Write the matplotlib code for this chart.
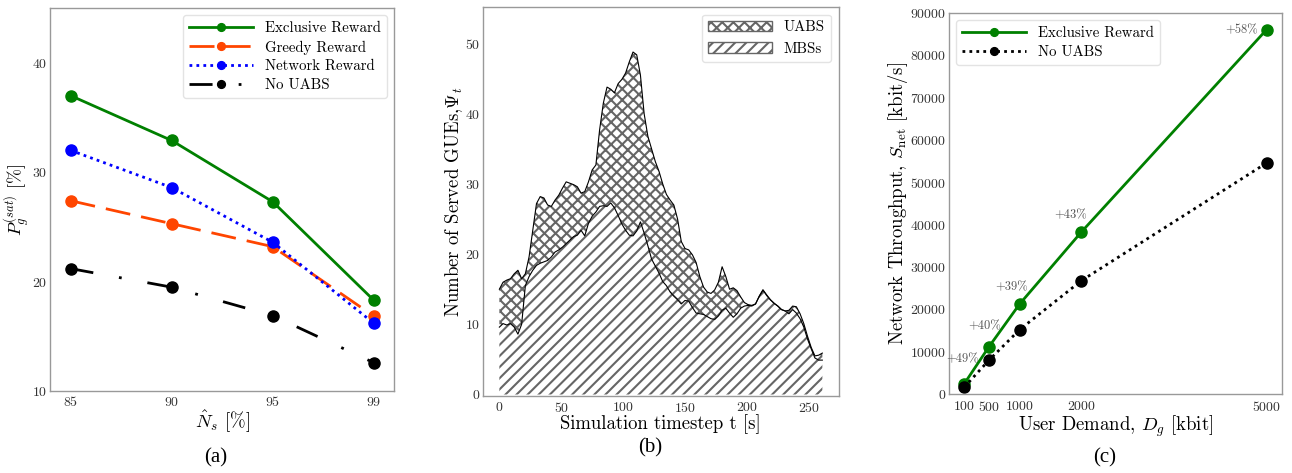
import matplotlib
matplotlib.use("Agg")
import matplotlib.pyplot as plt
import numpy as np
from matplotlib.patches import Patch

# ── Estilo ────────────────────────────────────────────────────────────────────
plt.rcParams["font.family"] = ["cmr10", "DejaVu Serif"]
plt.rcParams["mathtext.fontset"] = "cm"
plt.rcParams["axes.formatter.use_mathtext"] = True
plt.rcParams["hatch.linewidth"] = 1.5
plt.rcParams["axes.unicode_minus"] = False

SPINE_GRAY = "#999999"
TEXT_GRAY = "#333333"
HATCH_GRAY = "#666666"

# ── (a) datos ─────────────────────────────────────────────────────────────────
ns_labels = ["85", "90", "95", "99"]
psat_exclusive = [37.0, 32.9, 27.3, 18.3]
psat_greedy = [27.4, 25.3, 23.2, 16.85]
psat_network = [32.0, 28.6, 23.6, 16.2]
psat_no_uabs = [21.2, 19.5, 16.9, 12.6]

# ── (b) datos ─────────────────────────────────────────────────────────────────
timestep_s = np.arange(0, 262, 3)
served_total = [
    15.0, 16.0, 16.3, 16.5, 17.2, 17.7, 16.5, 17.2, 19.6, 23.4,
    27.2, 28.2, 28.0, 27.0, 26.8, 27.7, 28.4, 29.4, 30.3, 30.1,
    29.9, 29.6, 28.7, 28.9, 30.3, 32.0, 32.7, 37.7, 41.5, 43.8,
    43.5, 43.0, 44.3, 44.9, 45.8, 47.4, 48.8, 48.4, 45.5, 40.0,
    36.8, 35.0, 33.2, 31.8, 30.0, 28.5, 27.7, 27.0, 25.0, 21.8,
    20.8, 20.6, 19.9, 18.8, 16.8, 15.3, 14.6, 14.4, 14.9, 16.0,
    18.2, 16.8, 15.0, 15.2, 14.8, 13.9, 13.1, 12.8, 12.7, 12.9,
    14.0, 14.9, 14.2, 13.5, 13.0, 12.6, 12.1, 11.9, 12.0, 12.6,
    12.5, 11.5, 10.1, 8.3, 6.7, 5.5, 5.6, 5.9,
]
served_mbs = [
    9.6, 10.1, 9.9, 10.1, 9.6, 8.6, 10.0, 15.5, 16.8, 17.7,
    18.4, 18.7, 18.9, 19.1, 19.6, 20.3, 20.6, 21.0, 21.5, 22.0,
    22.5, 22.7, 23.4, 22.6, 24.4, 25.4, 26.0, 26.8, 26.9, 26.8,
    27.3, 26.6, 25.5, 24.3, 23.4, 22.7, 22.6, 23.3, 24.6, 23.0,
    21.2, 19.3, 18.3, 17.3, 16.1, 15.5, 14.6, 14.0, 13.5, 12.9,
    13.4, 13.3, 12.4, 11.6, 11.5, 11.4, 11.1, 10.8, 10.7, 11.2,
    12.0, 12.3, 11.6, 11.0, 11.5, 12.3, 12.6, 12.7, 12.6, 12.9,
    14.0, 14.9, 14.1, 13.5, 13.0, 12.6, 12.1, 11.9, 11.5, 12.1,
    11.6, 10.8, 9.6, 7.9, 6.5, 5.2, 4.9, 4.9,
]

# ── (c) datos ─────────────────────────────────────────────────────────────────
demand_kbit = [100, 500, 1000, 2000, 5000]
thr_exclusive = [2360, 11100, 21260, 38270, 86060]
thr_no_uabs = [1575, 7950, 15200, 26770, 54570]
gain_labels = ["+49%", "+40%", "+39%", "+43%", "+58%"]
gain_offsets = [(11, 18), (9, 15), (6, 12), (4, 12), (-6, 0)]

TICK_FS = 10
LABEL_FS = 13.5
LEGEND_FS = 10.7


def style_axes(ax):
    for sp in ax.spines.values():
        sp.set_color(SPINE_GRAY)
        sp.set_linewidth(1.0)
    ax.tick_params(length=0, labelsize=TICK_FS, labelcolor=TEXT_GRAY)
    ax.tick_params(axis="x", pad=4)
    ax.tick_params(axis="y", pad=2)


fig = plt.figure(figsize=(12.92, 4.73), dpi=100)
ax_a = fig.add_axes([0.039, 0.173, 0.266, 0.810])
ax_b = fig.add_axes([0.374, 0.163, 0.275, 0.822])
ax_c = fig.add_axes([0.7345, 0.167, 0.2575, 0.8055])

# ── (a) ───────────────────────────────────────────────────────────────────────
xa = np.arange(len(ns_labels))
ax_a.plot(xa, psat_exclusive, "-o", color="green", lw=2.0, ms=8, label="Exclusive Reward")
ax_a.plot(xa, psat_greedy, "o", color="orangered", lw=2.0, ms=8, ls=(0, (9, 4)),
          label="Greedy Reward")
ax_a.plot(xa, psat_network, "o", color="blue", lw=2.0, ms=8, ls=(0, (1, 1.5)),
          label="Network Reward")
ax_a.plot(xa, psat_no_uabs, "o", color="black", lw=2.0, ms=8, ls=(0, (8.3, 9.4, 1, 9.4)),
          label="No UABS")
ax_a.set_xticks(xa)
ax_a.set_xticklabels(ns_labels)
ax_a.set_xlim(-0.2, 3.2)
ax_a.set_ylim(10, 45)
ax_a.set_yticks([10, 20, 30, 40])
ax_a.set_xlabel(r"$\hat{N}_s$ [%]", fontsize=LABEL_FS, labelpad=0)
ax_a.set_ylabel(r"$P_g^{(sat)}$ [%]", fontsize=13, labelpad=0.5)
ax_a.legend(loc="upper right", fontsize=LEGEND_FS, markerscale=0.7, handlelength=4.3,
            labelspacing=0.35, edgecolor="#dddddd")
style_axes(ax_a)

# ── (b) ───────────────────────────────────────────────────────────────────────
ax_b.fill_between(timestep_s, 0, served_mbs, facecolor="white",
                  edgecolor=HATCH_GRAY, hatch="///", linewidth=0)
ax_b.fill_between(timestep_s, served_mbs, served_total, facecolor="white",
                  edgecolor=HATCH_GRAY, hatch="xxx", linewidth=0)
ax_b.plot(timestep_s, served_total, color="black", lw=0.8)
ax_b.plot(timestep_s, served_mbs, color="black", lw=0.8)
ax_b.set_ylim(-0.2, 55.2)
ax_b.set_yticks([0, 10, 20, 30, 40, 50])
ax_b.set_xticks([0, 50, 100, 150, 200, 250])
ax_b.set_xlabel("Simulation timestep t [s]", fontsize=LABEL_FS, labelpad=-1)
ax_b.set_ylabel(r"Number of Served GUEs,$\Psi_t$", fontsize=LABEL_FS, labelpad=0)
handles_b = [
    Patch(facecolor="white", edgecolor=HATCH_GRAY, hatch="xxx", label="UABS"),
    Patch(facecolor="white", edgecolor=HATCH_GRAY, hatch="///", label="MBSs"),
]
ax_b.legend(handles=handles_b, loc="upper right", fontsize=LEGEND_FS, handlelength=4.3,
            handleheight=0.75, labelspacing=0.55, edgecolor="#dddddd")
style_axes(ax_b)

# ── (c) ───────────────────────────────────────────────────────────────────────
ax_c.plot(demand_kbit, thr_exclusive, "-o", color="green", lw=2.0, ms=8, label="Exclusive Reward")
ax_c.plot(demand_kbit, thr_no_uabs, "o", color="black", lw=2.0, ms=8, ls=(0, (1, 1.5)),
          label="No UABS")
for x, y, txt, off in zip(demand_kbit, thr_exclusive, gain_labels, gain_offsets):
    ax_c.annotate(txt, (x, y), xytext=off, textcoords="offset points", ha="right",
                  va="center", fontsize=9, color="#555555")
ax_c.set_xticks(demand_kbit)
ax_c.set_ylim(0, 90000)
ax_c.set_yticks(np.arange(0, 90001, 10000))
ax_c.set_xlabel(r"User Demand, $D_g$ [kbit]", fontsize=LABEL_FS, labelpad=0)
ax_c.set_ylabel(r"Network Throughput, $S_{\mathrm{net}}$ [kbit/s]", fontsize=LABEL_FS,
                labelpad=0)
ax_c.legend(loc="upper left", fontsize=LEGEND_FS, markerscale=0.7, handlelength=4.3,
            labelspacing=0.35, edgecolor="#dddddd")
style_axes(ax_c)

# ── Subtítulos ────────────────────────────────────────────────────────────────
for txt, x, y in [("(a)", 0.167, 0.032), ("(b)", 0.503, 0.053), ("(c)", 0.855, 0.032)]:
    fig.text(x, y, txt, ha="center", va="center", fontsize=15, family="Liberation Serif")

fig.savefig("out.png", dpi=100)
